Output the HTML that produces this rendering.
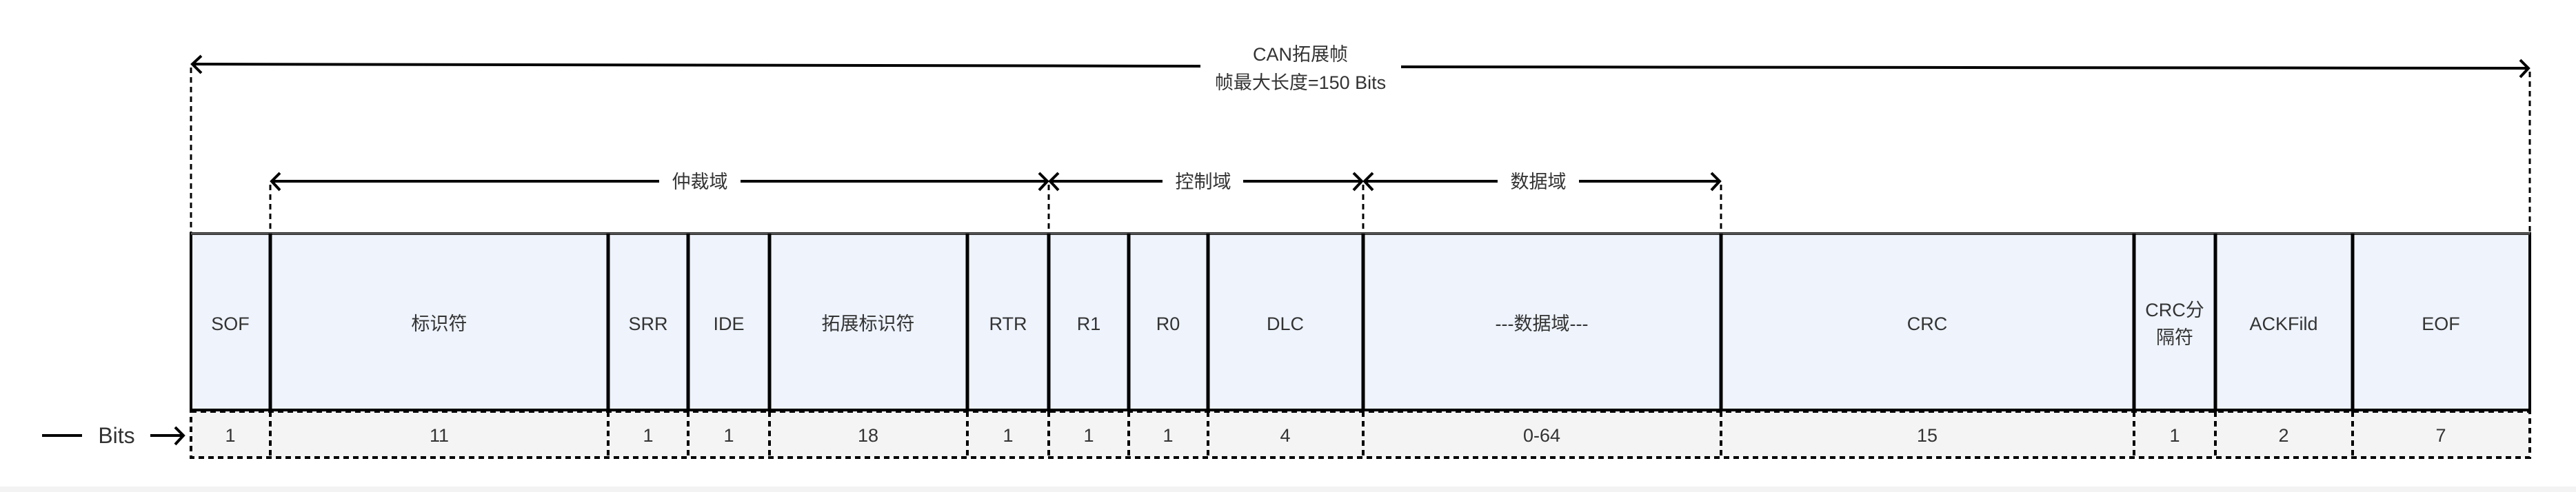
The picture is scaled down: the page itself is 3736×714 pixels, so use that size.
<!DOCTYPE html>
<html><head><meta charset="utf-8"><style>
html,body{margin:0;padding:0;background:#fff;}
svg{display:block;}
text{font-family:"Liberation Sans","Noto Sans CJK SC",sans-serif;fill:#333;font-size:27px;text-anchor:middle;}
</style></head><body>
<svg width="3736" height="714" viewBox="0 0 3736 714" xmlns="http://www.w3.org/2000/svg">
<rect x="0" y="706" width="3736" height="8" fill="#f3f3f3"/>
<!-- bits row -->
<rect x="277" y="597" width="3392" height="67" fill="#f4f4f4" stroke="#000" stroke-width="4" stroke-dasharray="8,6"/>
<!-- main box -->
<rect x="277" y="339" width="3392" height="256" fill="#eef3fc" stroke="#000" stroke-width="4"/>
<line x1="277" y1="339" x2="3669" y2="339" stroke="#555" stroke-width="3"/>
<g stroke="#000" stroke-width="5">
<line x1="392" y1="339" x2="392" y2="595"/>
<line x1="882" y1="339" x2="882" y2="595"/>
<line x1="998" y1="339" x2="998" y2="595"/>
<line x1="1116" y1="339" x2="1116" y2="595"/>
<line x1="1403" y1="339" x2="1403" y2="595"/>
<line x1="1521" y1="339" x2="1521" y2="595"/>
<line x1="1637" y1="339" x2="1637" y2="595"/>
<line x1="1752" y1="339" x2="1752" y2="595"/>
<line x1="1977" y1="339" x2="1977" y2="595"/>
<line x1="2496" y1="339" x2="2496" y2="595"/>
<line x1="3095" y1="339" x2="3095" y2="595"/>
<line x1="3213" y1="339" x2="3213" y2="595"/>
<line x1="3412" y1="339" x2="3412" y2="595"/>
</g>
<g stroke="#000" stroke-width="4" stroke-dasharray="8,6">
<line x1="392" y1="597" x2="392" y2="664"/>
<line x1="882" y1="597" x2="882" y2="664"/>
<line x1="998" y1="597" x2="998" y2="664"/>
<line x1="1116" y1="597" x2="1116" y2="664"/>
<line x1="1403" y1="597" x2="1403" y2="664"/>
<line x1="1521" y1="597" x2="1521" y2="664"/>
<line x1="1637" y1="597" x2="1637" y2="664"/>
<line x1="1752" y1="597" x2="1752" y2="664"/>
<line x1="1977" y1="597" x2="1977" y2="664"/>
<line x1="2496" y1="597" x2="2496" y2="664"/>
<line x1="3095" y1="597" x2="3095" y2="664"/>
<line x1="3213" y1="597" x2="3213" y2="664"/>
<line x1="3412" y1="597" x2="3412" y2="664"/>
<!-- guide dashes -->
<line x1="277" y1="98" x2="277" y2="337" stroke-width="3"/>
<line x1="3669" y1="104" x2="3669" y2="337" stroke-width="3"/>
<line x1="392" y1="268" x2="392" y2="337" stroke-width="3"/>
<line x1="1521" y1="268" x2="1521" y2="337" stroke-width="3"/>
<line x1="1977" y1="268" x2="1977" y2="337" stroke-width="3"/>
<line x1="2496" y1="268" x2="2496" y2="337" stroke-width="3"/>
</g>
<!-- arrows -->
<g stroke="#000" stroke-width="4" fill="none">
<line x1="279" y1="93" x2="1741" y2="96"/>
<line x1="2032" y1="97" x2="3667" y2="99"/>
<polyline points="292,81 279,93 292,106"/>
<polyline points="3655,87 3667,99 3655,112"/>
<line x1="394" y1="263" x2="956" y2="263"/>
<line x1="1074" y1="263" x2="1519" y2="263"/>
<polyline points="406,251 394,263 406,276"/>
<polyline points="1507,251 1519,263 1507,276"/>
<line x1="1523" y1="263" x2="1686" y2="263"/>
<line x1="1803" y1="263" x2="1975" y2="263"/>
<polyline points="1535,251 1523,263 1535,276"/>
<polyline points="1963,251 1975,263 1963,276"/>
<line x1="1979" y1="263" x2="2172" y2="263"/>
<line x1="2290" y1="263" x2="2494" y2="263"/>
<polyline points="1991,251 1979,263 1991,276"/>
<polyline points="2482,251 2494,263 2482,276"/>
<line x1="61" y1="632" x2="119" y2="632"/>
<line x1="218" y1="632" x2="266" y2="632"/>
<polyline points="254,620 266,632 254,645"/>
</g>
<text x="1886" y="88">CAN拓展帧</text>
<text x="1886" y="129">帧最大长度=150 Bits</text>
<text x="1015" y="273">仲裁域</text>
<text x="1745" y="273">控制域</text>
<text x="2231" y="273">数据域</text>
<text x="169" y="643" style="font-size:32px">Bits</text>
<g>
<text x="334" y="479">SOF</text>
<text x="637" y="479">标识符</text>
<text x="940" y="479">SRR</text>
<text x="1057" y="479">IDE</text>
<text x="1259" y="479">拓展标识符</text>
<text x="1462" y="479">RTR</text>
<text x="1579" y="479">R1</text>
<text x="1694" y="479">R0</text>
<text x="1864" y="479">DLC</text>
<text x="2236" y="479">---数据域---</text>
<text x="2795" y="479">CRC</text>
<text x="3154" y="459">CRC分</text>
<text x="3154" y="499">隔符</text>
<text x="3312" y="479">ACKFild</text>
<text x="3540" y="479">EOF</text>
</g>
<g>
<text x="334" y="641">1</text>
<text x="637" y="641">11</text>
<text x="940" y="641">1</text>
<text x="1057" y="641">1</text>
<text x="1259" y="641">18</text>
<text x="1462" y="641">1</text>
<text x="1579" y="641">1</text>
<text x="1694" y="641">1</text>
<text x="1864" y="641">4</text>
<text x="2236" y="641">0-64</text>
<text x="2795" y="641">15</text>
<text x="3154" y="641">1</text>
<text x="3312" y="641">2</text>
<text x="3540" y="641">7</text>
</g>
</svg>
</body></html>
